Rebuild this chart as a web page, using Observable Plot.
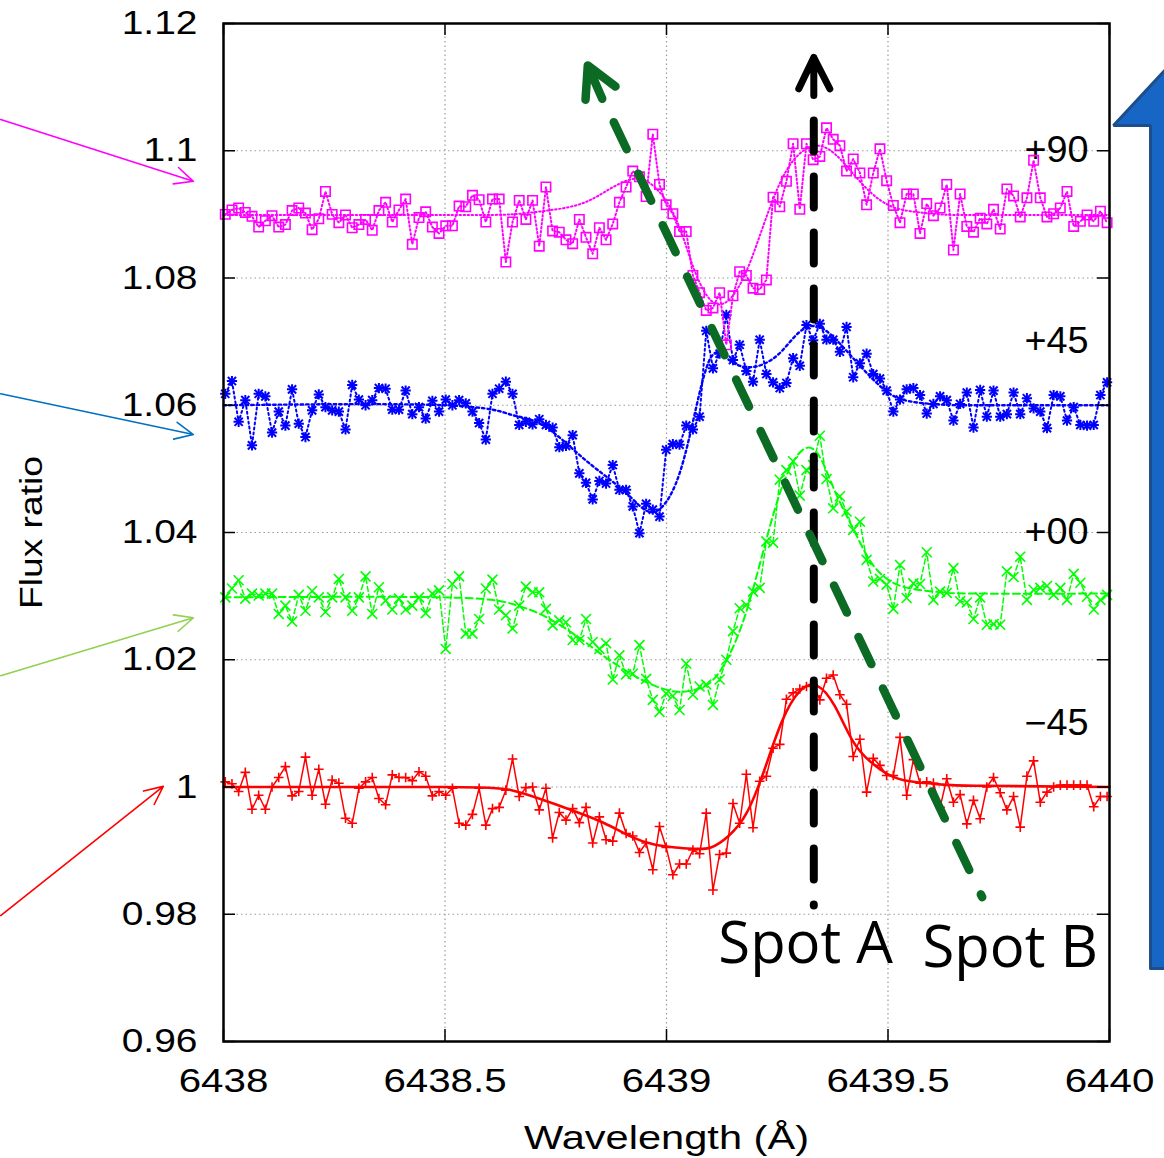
<!DOCTYPE html>
<html><head><meta charset="utf-8">
<script src="https://cdn.jsdelivr.net/npm/d3@7"></script>
<script src="https://cdn.jsdelivr.net/npm/@observablehq/plot@0.6"></script>
<style>
html,body{margin:0;padding:0;background:#fff;}
#chart{width:1164px;height:1158px;overflow:hidden;}
</style></head><body><div id="chart"></div>
<script>
// ---- wavelength grid of the observed spectra (Å) ----
const wlStart = 6438.004, wlStep = 0.01508;

const fluxP90 = [
 1.0900,1.0907,1.0910,1.0903,1.0897,1.0880,1.0890,1.0898,1.0880,1.0884,
 1.0906,1.0910,1.0902,1.0876,1.0893,1.0936,1.0900,1.0887,1.0899,1.0879,
 1.0884,1.0892,1.0875,1.0906,1.0919,1.0888,1.0907,1.0924,1.0853,1.0895,
 1.0904,1.0880,1.0870,1.0882,1.0882,1.0913,1.0912,1.0930,1.0923,1.0888,
 1.0924,1.0924,1.0825,1.0888,1.0922,1.0892,1.0922,1.0850,1.0943,1.0874,
 1.0872,1.0860,1.0854,1.0892,1.0864,1.0838,
 1.0879,1.0860,1.0885,1.0919,1.0943,1.0968,1.0959,1.0928,1.1026,1.0947,
 1.0915,1.0901,1.0873,1.0873,1.0804,1.0777,1.0749,1.0753,1.0777,1.0695,
 1.0772,1.0810,1.0804,1.0784,1.0782,1.0797,1.0927,1.0912,1.0952,1.1011,
 1.0908,1.1011,1.0986,1.0991,1.1036,1.1018,1.1008,1.0968,1.0987,1.0965,
 1.0915,1.0965,1.1003,1.0953,1.0914,1.0887,1.0932,1.0932,1.0870,1.0917,
 1.0898,1.0910,1.0947,1.0844,1.0932,1.0881,1.0872,1.0894,1.0885,1.0908,
 1.0877,1.0940,1.0929,1.0896,1.0926,1.0985,1.0926,1.0896,1.0901,1.0910,
 1.0936,1.0881,1.0889,1.0899,1.0889,1.0905,1.0887];
const fluxP45 = [
 1.0618,1.0638,1.0574,1.0608,1.0537,1.0618,1.0614,1.0557,1.0590,1.0568,
 1.0625,1.0571,1.0550,1.0592,1.0617,1.0597,1.0592,1.0590,1.0562,1.0632,
 1.0609,1.0600,1.0608,1.0627,1.0626,1.0593,1.0593,1.0623,1.0586,1.0597,
 1.0579,1.0607,1.0590,1.0609,1.0600,1.0608,1.0603,1.0590,1.0572,1.0546,
 1.0618,1.0626,1.0637,1.0618,1.0569,1.0574,1.0570,1.0578,1.0569,1.0565,
 1.0534,1.0536,1.0553,1.0493,1.0478,1.0452,1.0481,1.0477,1.0506,1.0467,
 1.0467,1.0441,1.0399,1.0445,1.0436,1.0425,1.0530,
 1.0539,1.0538,1.0568,1.0562,1.0582,1.0717,1.0658,1.0681,1.0742,1.0671,
 1.0695,1.0654,1.0637,1.0703,1.0649,1.0636,1.0627,1.0635,1.0674,1.0662,
 1.0726,1.0702,1.0728,1.0703,1.0703,1.0684,1.0723,1.0644,1.0666,1.0681,
 1.0649,1.0642,1.0623,1.0590,1.0609,1.0625,1.0627,1.0616,1.0587,1.0602,
 1.0614,1.0608,1.0576,1.0602,1.0620,1.0565,1.0624,1.0582,1.0623,1.0582,
 1.0586,1.0620,1.0586,1.0611,1.0595,1.0590,1.0564,1.0616,1.0614,1.0576,
 1.0597,1.0569,1.0568,1.0569,1.0616,1.0636];
const fluxP00 = [
 1.0298,1.0312,1.0325,1.0296,1.0304,1.0301,1.0304,1.0304,1.0272,1.0285,
 1.0260,1.0302,1.0277,1.0308,1.0298,1.0275,1.0298,1.0327,1.0298,1.0277,
 1.0298,1.0331,1.0272,1.0314,1.0293,1.0279,1.0296,1.0279,1.0285,1.0298,
 1.0273,1.0304,1.0309,1.0217,1.0319,1.0331,1.0241,1.0241,1.0264,1.0312,
 1.0326,1.0279,1.0270,1.0249,1.0285,1.0315,1.0306,1.0306,1.0280,1.0254,
 1.0262,1.0259,1.0231,1.0231,1.0264,1.0228,1.0217,1.0226,1.0169,1.0207,
 1.0177,1.0178,1.0223,1.0170,1.0137,1.0118,1.0147,
 1.0143,1.0121,1.0194,1.0145,1.0158,1.0161,1.0129,1.0169,1.0200,
 1.0245,1.0281,1.0286,1.0307,1.0313,1.0386,1.0384,1.0483,1.0498,1.0512,
 1.0458,1.0498,1.0506,1.0552,1.0484,1.0438,1.0457,1.0433,1.0404,1.0417,
 1.0357,1.0323,1.0327,1.0318,1.0280,1.0349,1.0297,1.0320,1.0319,1.0369,
 1.0294,1.0307,1.0305,1.0344,1.0292,1.0290,1.0264,1.0298,1.0255,1.0256,
 1.0255,1.0339,1.0330,1.0362,1.0294,1.0310,1.0313,1.0316,1.0302,1.0313,
 1.0294,1.0335,1.0321,1.0299,1.0279,1.0294,1.0302];
const fluxM45 = [
 1.0008,1.0005,0.9993,1.0023,0.9965,0.9987,0.9965,1.0000,1.0015,1.0032,
 0.9986,0.9993,1.0047,0.9987,1.0028,0.9973,1.0011,1.0006,0.9951,0.9943,
 0.9998,1.0008,1.0015,0.9982,0.9972,1.0019,1.0015,1.0015,1.0010,1.0024,
 1.0017,0.9986,0.9993,0.9987,0.9998,0.9943,0.9940,0.9957,0.9998,0.9940,
 0.9966,0.9968,0.9995,1.0044,0.9985,0.9999,1.0000,0.9964,0.9998,0.9920,
 0.9960,0.9948,0.9966,0.9944,0.9968,0.9912,0.9953,0.9917,0.9915,0.9959,
 0.9927,0.9923,0.9897,0.9912,0.9870,0.9938,0.9905,
 0.9862,0.9879,0.9879,0.9901,0.9895,0.9959,0.9838,0.9894,0.9896,0.9974,
 0.9943,1.0020,0.9936,1.0009,1.0017,1.0061,1.0067,1.0138,1.0148,1.0154,
 1.0158,1.0161,1.0137,1.0171,1.0176,1.0145,1.0130,1.0048,1.0075,0.9992,
 1.0045,1.0034,1.0018,1.0018,1.0078,0.9987,1.0043,1.0006,1.0008,1.0006,
 0.9968,1.0013,0.9976,0.9988,0.9942,0.9979,0.9950,1.0000,1.0015,0.9991,
 0.9964,0.9985,0.9937,1.0017,1.0041,0.9976,0.9992,1.0000,1.0003,1.0003,
 1.0003,1.0003,1.0003,0.9969,0.9985,0.9985];

// ---- smooth model profiles (knots) ----
const modelWl = [6438.00,6438.50,6438.65,6438.72,6438.80,6438.86,6438.92,6438.97,6439.02,6439.06,
 6439.10,6439.14,6439.18,6439.22,6439.26,6439.30,6439.34,6439.38,6439.42,6439.46,
 6439.50,6439.55,6439.62,6439.70,6440.00];
const modelP90 = [1.0899,1.0899,1.0900,1.0905,1.0915,1.0935,1.0955,1.0945,1.0895,1.0818,
 1.0765,1.0765,1.0810,1.0885,1.0955,1.0995,1.1008,1.0995,1.0965,1.0935,
 1.0915,1.0905,1.0900,1.0899,1.0899];
const modelP45 = [1.0600,1.0600,1.0585,1.0569,1.0524,1.0490,1.0455,1.0432,1.0475,1.0575,
 1.0675,1.0672,1.0660,1.0665,1.0685,1.0715,1.0724,1.0705,1.0675,1.0645,
 1.0620,1.0606,1.0601,1.0600,1.0600];
const modelP00 = [1.0298,1.0298,1.0288,1.0270,1.0236,1.0205,1.0178,1.0160,1.0150,1.0152,
 1.0165,1.0205,1.0275,1.0375,1.0470,1.0525,1.0525,1.0465,1.0408,1.0355,
 1.0326,1.0312,1.0306,1.0304,1.0304];
const modelM45 = [1.0000,1.0000,0.9995,0.9980,0.9960,0.9943,0.9922,0.9910,0.9905,0.9903,
 0.9905,0.9923,0.9958,1.0025,1.0102,1.0150,1.0159,1.0127,1.0073,1.0040,
 1.0020,1.0009,1.0004,1.0002,1.0000];

// ---- axes & labels ----
const xTicks = [6438, 6438.5, 6439, 6439.5, 6440];
const yTicks = [0.96, 0.98, 1.00, 1.02, 1.04, 1.06, 1.08, 1.10, 1.12];
const seriesNames = ["+90", "+45", "+00", "\u221245"];
const seriesLabelY = [1.10, 1.07, 1.04, 1.01];
const xLabel = "Wavelength (\u00C5)";
const yLabel = "Flux ratio";

// ---- annotations (data units) ----
const spotNames = ["Spot A", "Spot B"];
const spotX = [6439.117, 6439.578];
const spotY = [0.9756, 0.9750];
const pointerColors = ["#ff00ff", "#0070c0", "#92d050", "#ff0000"];
const pointerX1 = [6437.497, 6437.497, 6437.497, 6437.497];
const pointerY1 = [1.1049, 1.0618, 1.0175, 0.9798];
const pointerX2 = [6437.932, 6437.932, 6437.932, 6437.864];
const pointerY2 = [1.0952, 1.0554, 1.0266, 1.0001];
const spotAShaftX = [6439.3325, 6439.3325];
const spotAShaftY = [1.10475, 0.98137];
const spotAHeadX = [6439.2986, 6439.3325, 6439.3686, null, 6439.3325, 6439.3325];
const spotAHeadY = [1.10974, 1.11466, 1.10974, null, 1.11466, 1.10868];
const spotBShaftX = [6438.8810, 6439.7126];
const spotBShaftY = [1.10449, 0.98268];
const spotBHeadX = [6438.8172, 6438.8223, 6438.8849, null, 6438.8223, 6438.8549];
const spotBHeadY = [1.10801, 1.11340, 1.11010, null, 1.11340, 1.10817];
const bigArrowX = [6440.0926, 6440.0926, 6440.0090, 6440.2506, 6440.4086, 6440.4086, 6440.0926];
const bigArrowY = [0.97148, 1.10397, 1.10397, 1.12204, 1.10397, 0.97148, 0.97148];

// ---- build tables ----
const toPts = arr => arr.map((v, i) => ({x: wlStart + i * wlStep, y: v}));
const toModel = arr => arr.map((v, i) => ({x: modelWl[i], y: v}));
const zipXY = (xs, ys) => xs.map((x, i) => ({x, y: ys[i]}));
const pP90 = toPts(fluxP90), pP45 = toPts(fluxP45), pP00 = toPts(fluxP00), pM45 = toPts(fluxM45);
const pointers = pointerColors.map((c, i) => ({c, x1: pointerX1[i], y1: pointerY1[i], x2: pointerX2[i], y2: pointerY2[i]}));
const labels = seriesNames.map((t, i) => ({t, y: seriesLabelY[i]}));
const spots = spotNames.map((t, i) => ({t, x: spotX[i], y: spotY[i]}));

const W = 1164, H = 1158, mL = 223, mR = 55, mT = 23, mB = 117;
const fW = W - mL - mR, fH = H - mT - mB;
const MAG = "#ff00ff", BLU = "#0000ff", GRN = "#00ff00", RED = "#ff0000";
const SPOTB = "#0b6a24";
const fmtY = d => String(+d.toFixed(2));

const chart = Plot.plot({
  width: W, height: H,
  marginLeft: mL, marginRight: mR, marginTop: mT, marginBottom: mB,
  x: {domain: [6438, 6440]},
  y: {domain: [0.96, 1.12]},
  style: {background: "white", fontFamily: "'Liberation Sans', Arial, sans-serif", color: "black"},
  marks: [
    // grid
    Plot.ruleX(xTicks.slice(1, -1), {stroke: "#9a9a9a", strokeWidth: 1.2, strokeDasharray: "1.5,3"}),
    Plot.ruleY(yTicks.slice(1, -1), {stroke: "#9a9a9a", strokeWidth: 1.2, strokeDasharray: "1.5,3"}),
    // series labels (key)
    Plot.text(labels, {x: () => 6440, y: "y", text: "t", dx: -21, textAnchor: "end", fontSize: 36, fill: "black"}),
    // -45 (red)
    Plot.line(pM45, {x: "x", y: "y", stroke: RED, strokeWidth: 1.5}),
    Plot.line(toModel(modelM45), {x: "x", y: "y", stroke: RED, strokeWidth: 2.6, curve: "natural"}),
    Plot.dot(pM45, {x: "x", y: "y", symbol: "plus", r: 3.2, stroke: RED, strokeWidth: 1.6}),
    // +00 (green)
    Plot.line(pP00, {x: "x", y: "y", stroke: GRN, strokeWidth: 1.5, strokeDasharray: "5,3"}),
    Plot.line(toModel(modelP00), {x: "x", y: "y", stroke: GRN, strokeWidth: 2, strokeDasharray: "7,4", curve: "natural"}),
    Plot.dot(pP00, {x: "x", y: "y", symbol: "times", r: 4.6, stroke: GRN, strokeWidth: 1.6}),
    // +45 (blue)
    Plot.line(pP45, {x: "x", y: "y", stroke: BLU, strokeWidth: 2, strokeDasharray: "2,3"}),
    Plot.line(toModel(modelP45), {x: "x", y: "y", stroke: BLU, strokeWidth: 2.4, strokeDasharray: "2.5,3", curve: "natural"}),
    Plot.dot(pP45, {x: "x", y: "y", symbol: "plus", r: 3.4, stroke: BLU, strokeWidth: 2}),
    Plot.dot(pP45, {x: "x", y: "y", symbol: "times", r: 3.8, stroke: BLU, strokeWidth: 2}),
    // +90 (magenta)
    Plot.line(pP90, {x: "x", y: "y", stroke: MAG, strokeWidth: 2, strokeDasharray: "1.5,2.5"}),
    Plot.line(toModel(modelP90), {x: "x", y: "y", stroke: MAG, strokeWidth: 2, strokeDasharray: "1.5,2.5", curve: "natural"}),
    Plot.dot(pP90, {x: "x", y: "y", symbol: "square", r: 5.3, fill: "none", stroke: MAG, strokeWidth: 1.6}),
    // frame + inward ticks on all sides
    Plot.frame({stroke: "black", strokeWidth: 2.5}),
    Plot.tickX(xTicks, {x: d => d, insetTop: fH - 12, stroke: "black", strokeWidth: 1.5}),
    Plot.tickX(xTicks, {x: d => d, insetBottom: fH - 12, stroke: "black", strokeWidth: 1.5}),
    Plot.tickY(yTicks, {y: d => d, insetRight: fW - 12, stroke: "black", strokeWidth: 1.5}),
    Plot.tickY(yTicks, {y: d => d, insetLeft: fW - 12, stroke: "black", strokeWidth: 1.5}),
    Plot.axisX({ticks: xTicks, tickSize: 0, tickPadding: 27, fontSize: 33, tickFormat: d => String(d), label: null}),
    Plot.axisY({ticks: yTicks, tickSize: 0, tickPadding: 26, fontSize: 33, tickFormat: fmtY, label: null}),
    Plot.text([xLabel], {frameAnchor: "bottom", dy: 97, fontSize: 33, fill: "black", textAnchor: "middle", lineAnchor: "middle"}),
    Plot.text([yLabel], {frameAnchor: "left", dx: -191, rotate: -90, fontSize: 31, fill: "black", textAnchor: "middle", lineAnchor: "middle"}),
    // spot arrows
    Plot.line(zipXY(spotAShaftX, spotAShaftY), {x: "x", y: "y", stroke: "black", strokeWidth: 8, strokeDasharray: "31,25"}),
    Plot.line(zipXY(spotAHeadX, spotAHeadY), {x: "x", y: "y", stroke: "black", strokeWidth: 7, strokeLinecap: "round", strokeLinejoin: "round"}),
    Plot.line(zipXY(spotBShaftX, spotBShaftY), {x: "x", y: "y", stroke: SPOTB, strokeWidth: 8.5, strokeDasharray: "30,27"}),
    Plot.line(zipXY(spotBHeadX, spotBHeadY), {x: "x", y: "y", stroke: SPOTB, strokeWidth: 8.5, strokeLinecap: "round", strokeLinejoin: "round"}),
    Plot.text(spots, {x: "x", y: "y", text: "t", textAnchor: "start", fontSize: 58, fontFamily: "'Open Sans', sans-serif", fill: "black", dy: 2}),
    // pointers from the left
    Plot.arrow(pointers, {x1: "x1", y1: "y1", x2: "x2", y2: "y2", stroke: "c", strokeWidth: 1.6, headLength: 19, headAngle: 50}),
    // big blue arrow at right
    Plot.line(zipXY(bigArrowX, bigArrowY), {x: "x", y: "y", fill: "#1766c6", stroke: "#1d4e8c", strokeWidth: 3, strokeLinejoin: "miter"})
  ]
});
document.getElementById("chart").appendChild(chart);

// horizontal stretch of the gnuplot-style lettering
function stretchText(match, f) {
  chart.querySelectorAll("text").forEach(t => {
    if (!match(t)) return;
    const w = t.getComputedTextLength();
    t.setAttribute("textLength", (w * f).toFixed(1));
    t.setAttribute("lengthAdjust", "spacingAndGlyphs");
  });
}
const inGroup = label => t => { const g = t.closest("g[aria-label]"); return g && g.getAttribute("aria-label") === label; };
stretchText(inGroup("y-axis tick label"), 1.18);
stretchText(inGroup("x-axis tick label"), 1.22);
stretchText(t => t.textContent === xLabel, 1.26);
stretchText(t => t.textContent === yLabel, 1.2);
stretchText(t => seriesNames.includes(t.textContent), 1.05);
</script>
</body></html>
